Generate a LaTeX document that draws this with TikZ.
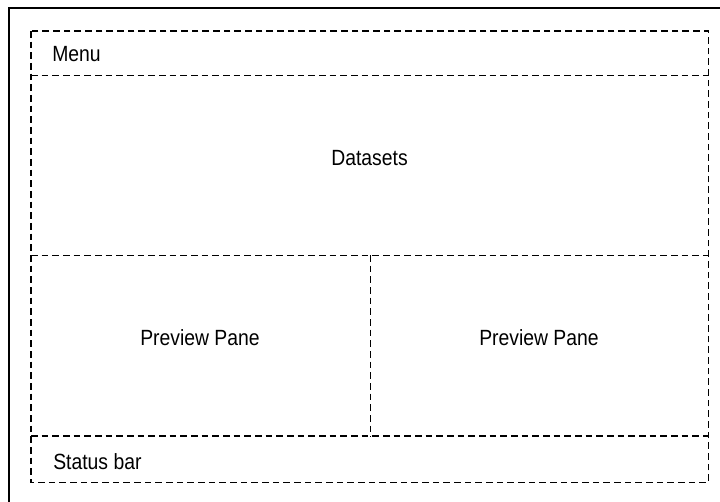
\documentclass[tikz,border=0pt]{standalone}
\usepackage{fontspec}
\setmainfont[FakeStretch=0.88]{Liberation Sans}
\usetikzlibrary{positioning}
\definecolor{WFInk}{HTML}{000000}
\tikzset{
  frame/.style={draw=WFInk,line width=1.5pt},
  region/.style={inner sep=0pt,anchor=north west},
  divider/.style={draw=WFInk,line width=1.15pt,dash pattern=on 5pt off 3pt},
  caption/.style={text=WFInk,font=\fontsize{16.5}{19}\selectfont,inner sep=0pt},
}

\begin{document}
\begin{tikzpicture}[x=.75pt,y=-.75pt]
    \useasboundingbox (0,0) rectangle (720,502);
    \clip (0,0) rectangle (720,502);
    \draw[frame] (9,8) rectangle (760,540);

    % layout regions
    \node[region,minimum width=677*.75pt,minimum height=44*.75pt] (menu) at (31,31) {};
    \node[region,minimum width=677*.75pt,minimum height=180*.75pt] (datasets) at (31,75) {};
    \node[region,minimum width=339*.75pt,minimum height=181*.75pt] (left) at (31,255) {};
    \node[region,minimum width=338*.75pt,minimum height=181*.75pt] (right) at (370,255) {};
    \node[region,minimum width=677*.75pt,minimum height=46*.75pt] (status) at (31,436) {};

    \draw[divider] (menu.north west) rectangle (status.south east);
    \draw[divider] (menu.south west) -- (menu.south east);
    \draw[divider] (datasets.south west) -- (datasets.south east);
    \draw[divider] (status.north west) -- (status.north east);
    \draw[divider] (left.north east) -- (left.south east);

    \node[caption,anchor=west] (menutext) at (52,54.5) {Menu};
    \node[caption] (datatext) at (369.5,158.5) {Datasets};
    \node[caption] (lefttext) at (200,338) {Preview Pane};
    \node[caption] (righttext) at (539,338) {Preview Pane};
    \node[caption,anchor=west] (statustext) at (53,461.5) {Status bar};
  \end{tikzpicture}
\end{document}
